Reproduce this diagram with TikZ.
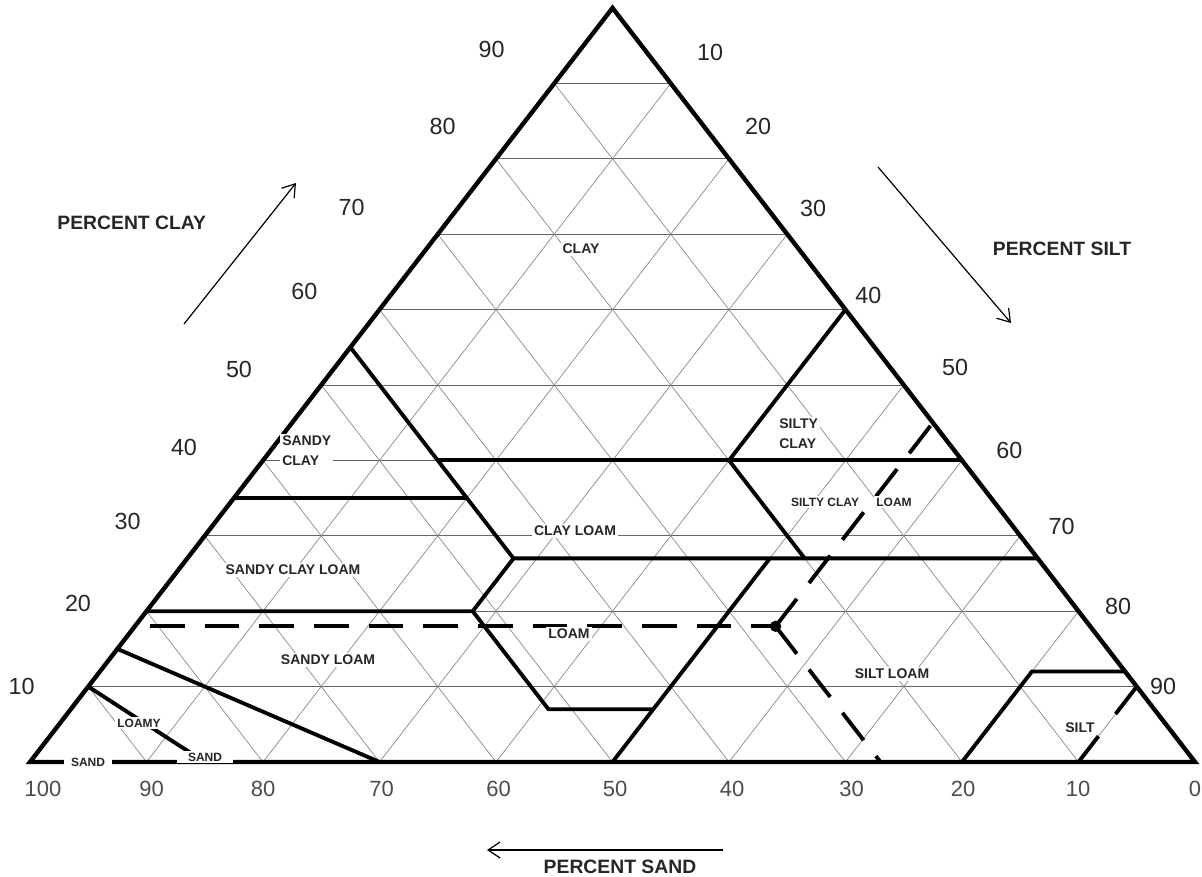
\documentclass[tikz,border=0pt]{standalone}
\usepackage{fontspec}
\setmainfont{Liberation Sans}
\usetikzlibrary{arrows.meta}

\begin{document}
\begin{tikzpicture}[x=0.75pt,y=0.75pt,yscale=-1,xscale=1,
	tririm/.style={line width=3.3pt},
	texline/.style={line width=2.9pt},
	gridh/.style={line width=0.6pt, color=black!60},
	gridd/.style={line width=0.55pt, color=black!45},
	dashline/.style={line width=2.9pt, dash pattern=on 26pt off 15pt},
	classlbl/.style={font=\fontsize{10.5}{15}\selectfont\bfseries, fill=white, inner sep=1.5pt, text=black!85},
	smalllbl/.style={font=\fontsize{9}{11}\selectfont\bfseries, fill=white, inner sep=1.5pt, text=black!85},
	sidenum/.style={font=\fontsize{17.5}{20}\selectfont, text=black!85},
	basenum/.style={font=\fontsize{16.5}{20}\selectfont, text=black!70},
	axtitle/.style={font=\fontsize{14.5}{17}\selectfont\bfseries, text=black!85},
	axarrow/.style={line width=0.9pt, -{Straight Barb[length=9pt,width=12pt]}},
	tern/.style={shift={(30,762)}, x={(8.7375pt,0pt)}, y={(4.36875pt,-5.655pt)}}
	]
	\useasboundingbox (0,0) rectangle (1202,877);

	% triangle: (silt, clay)
	\begin{scope}[tern]
		%Grid Lines
		\foreach \k in {10,20,...,90}{
			\draw[gridd] (\k,0) -- (\k,{100-\k});
			\draw[gridd] (\k,0) -- (0,\k);
			\draw[gridh] (0,\k) -- ({100-\k},\k);
		}
		%Class Boundaries
		\draw[texline] (0,10) -- (15,0);
		\draw[texline] (0,15) -- (30,0);
		\draw[texline] (0,20) -- (28,20) -- (41,7) -- (50,7);
		\draw[texline] (50,0) -- (50,27);
		\draw[texline] (28,20) -- (28,27) -- (73,27);
		\draw[texline] (0,35) -- (20,35);
		\draw[texline] (0,55) -- (28,27);
		\draw[texline] (15,40) -- (60,40);
		\draw[texline] (40,40) -- (40,60);
		\draw[texline] (40,40) -- (53,27);
		\draw[texline] (80,0) -- (80,12) -- (88,12);
		%Outline
		\draw[tririm] (0,0) -- (100,0) -- (0,100) -- cycle;
		%Sample Point
		\node[circle, fill, inner sep=0pt, minimum size=8.5pt] (sample) at (55,18) {};
		\coordinate (sampleW) at (1.3,18);
		\coordinate (sampleS) at (73,0);
		\coordinate (sampleN) at (55,45);
		\draw[dashline] (sampleW) -- (sample.center);
		\draw[dashline] (sample.center) -- (sampleS);
		\draw[dashline] (sample.center) -- (sampleN);
		\draw[dashline, dash pattern=on 26pt off 21pt] (90,10) -- (90,0);
	\end{scope}

	% Text Node
	\node[classlbl] (lclay) at (581,249) {CLAY};
	\node[classlbl, align=left, anchor=west] (lsandyclay) at (280,451) {SANDY\\CLAY};
	\node[classlbl] (lsandyclayloam) at (293,570) {SANDY CLAY LOAM};
	\node[classlbl] (lclayloam) at (575,531) {CLAY LOAM};
	\node[classlbl, align=left, anchor=west] (lsiltyclay) at (777,433.5) {SILTY\\CLAY};
	\node[smalllbl] (lsiltyclayloam) at (825,502) {SILTY CLAY};
	\node[smalllbl] (lsiltyclayloamb) at (894,502) {LOAM};
	\node[classlbl] (lloam) at (569,634) {LOAM};
	\node[classlbl] (lsandyloam) at (328,660) {SANDY LOAM};
	\node[classlbl] (lsiltloam) at (892,674) {SILT LOAM};
	\node[classlbl] (lsilt) at (1080,728) {SILT};
	\node[smalllbl] (lloamy) at (139,723) {LOAMY};
	\node[smalllbl, inner xsep=5pt] (lsand) at (88,762) {SAND};
	\node[smalllbl, inner xsep=8pt] (lsandb) at (205,757) {SAND};

	% Scale Numbers
	\foreach \v/\px/\py in {90/491.7/49.3, 80/442.7/126.7, 70/351.7/207.3, 60/304.3/291, 50/239/369, 40/184/447.7, 30/127.7/521.7, 20/78/603, 10/21.7/686.7}
		\node[sidenum] (clay\v) at (\px,\py) {\v};
	\foreach \v/\px/\py in {10/710/52.7, 20/758/126, 30/813/208, 40/868.3/295.7, 50/955/367.7, 60/1009.3/450, 70/1061.7/526.7, 80/1118/606, 90/1163/686}
		\node[sidenum] (silt\v) at (\px,\py) {\v};
	\foreach \v/\px in {100/43, 90/151.7, 80/263, 70/381.7, 60/498.5, 50/615, 40/732, 30/851.7, 20/963, 10/1078, 0/1195}
		\node[basenum] (sand\v) at (\px,789) {\v};

	% Axis Titles
	\node[axtitle] (tclay) at (131.7,222.7) {PERCENT CLAY};
	\node[axtitle] (tsilt) at (1062,249.3) {PERCENT SILT};
	\node[axtitle] (tsand) at (620,866.7) {PERCENT SAND};
	\coordinate (clayfrom) at (184,324);
	\coordinate (clayto) at (296,183);
	\coordinate (siltfrom) at (878,167);
	\coordinate (siltto) at (1011,323);
	\coordinate (sandfrom) at (723,850);
	\coordinate (sandto) at (487,850);
	\draw[axarrow] (clayfrom) -- (clayto);
	\draw[axarrow] (siltfrom) -- (siltto);
	\draw[axarrow] (sandfrom) -- (sandto);
\end{tikzpicture}
\end{document}
